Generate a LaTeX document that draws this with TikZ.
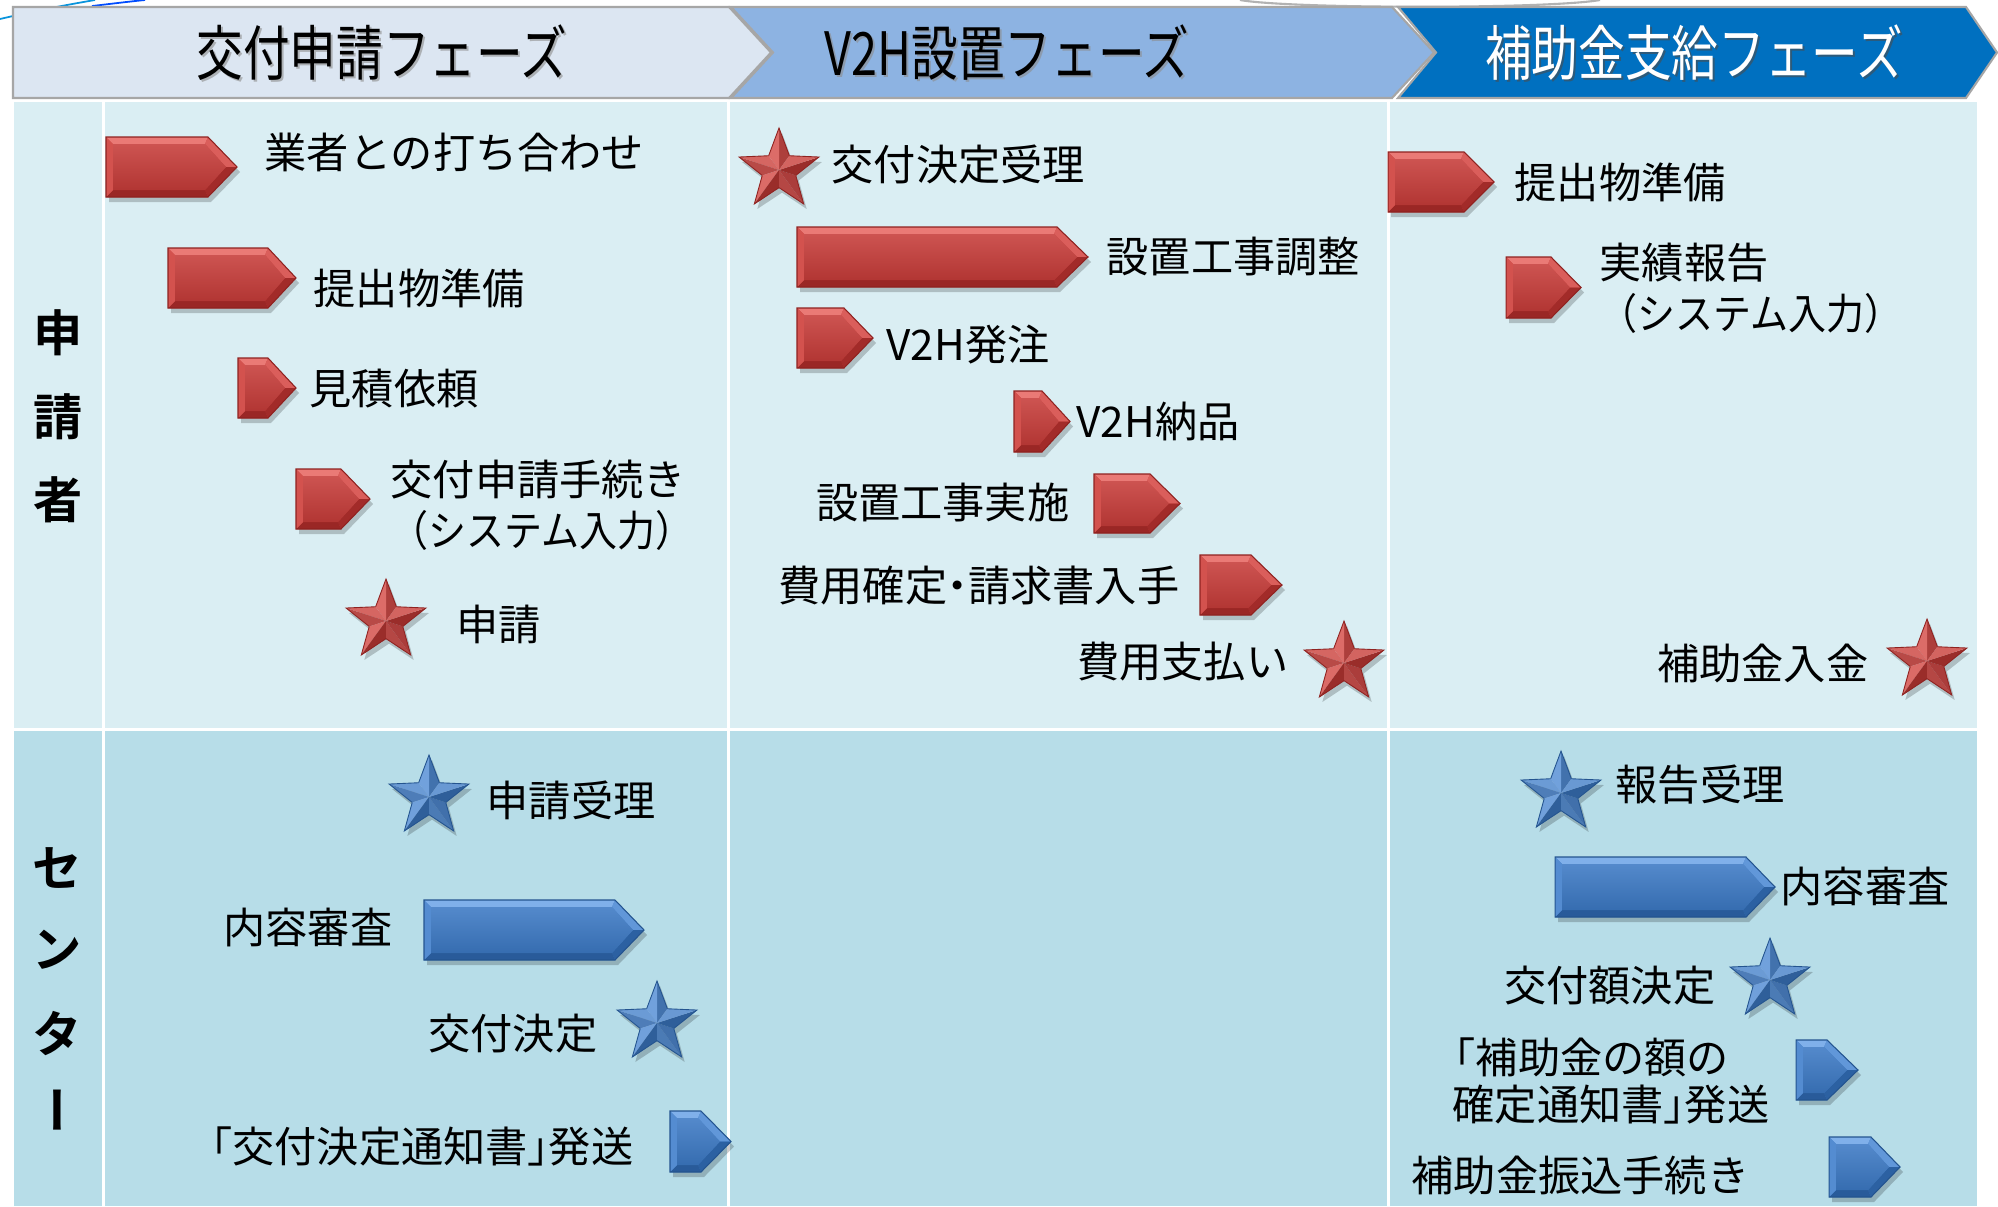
\documentclass[tikz,border=0pt]{standalone}
\usepackage{fontspec}
\setmainfont{Noto Sans CJK JP}[BoldFont={Noto Sans CJK JP Bold}]
\newfontfamily\jpc{Noto Sans CJK JP}[FakeStretch=0.78]
\newfontfamily\jph{Noto Sans CJK JP}[RawFeature=+halt]
\newfontfamily\jpn{Noto Sans CJK JP}[FakeStretch=0.9]
\usetikzlibrary{calc}
\definecolor{hdA}{HTML}{DCE6F2}
\definecolor{hdB}{HTML}{8DB3E2}
\definecolor{hdC}{HTML}{0070C0}
\definecolor{hdLine}{HTML}{A6A6A6}
\definecolor{rowA}{HTML}{DAEEF3}
\definecolor{rowB}{HTML}{B7DDE8}
\definecolor{Rbase}{HTML}{C63C39}
\definecolor{Rhi}{HTML}{EA7A76}
\definecolor{Rlo}{HTML}{8F2220}
\definecolor{Bbase}{HTML}{3C79C4}
\definecolor{Bhi}{HTML}{80B0EA}
\definecolor{Blo}{HTML}{24548F}
% pentagon arrow: #1 colour prefix, #2 x1, #3 y1, #4 tip x, #5 y2, #6 depth of point
\newcommand\parrow[6]{%
  \pgfmathsetmacro\paXm{#4-#6}%
  \pgfmathsetmacro\paYm{(#3+#5)/2}%
  \pgfmathsetmacro\paBx{#2+7}%
  \pgfmathsetmacro\paTy{#3+7}%
  \pgfmathsetmacro\paBy{#5-7}%
  \pgfmathsetmacro\paXi{\paXm-3}%
  \pgfmathsetmacro\paXt{#4-11}%
  \fill[black,opacity=.2] (#2+3,#3+5) -- (\paXm+3,#3+5) -- (#4+3,\paYm+5) -- (\paXm+3,#5+5) -- (#2+3,#5+5) -- cycle;
  \fill[#1base] (#2,#3) -- (\paXm,#3) -- (#4,\paYm) -- (\paXm,#5) -- (#2,#5) -- cycle;
  \fill[#1hi] (#2,#3) -- (\paXm,#3) -- (\paXi,\paTy) -- (\paBx,\paTy) -- cycle;
  \fill[#1hi!55!#1base] (\paXm,#3) -- (#4,\paYm) -- (\paXt,\paYm) -- (\paXi,\paTy) -- cycle;
  \fill[#1lo!65!#1base] (#4,\paYm) -- (\paXm,#5) -- (\paXi,\paBy) -- (\paXt,\paYm) -- cycle;
  \fill[#1lo!80!#1base] (\paXm,#5) -- (#2,#5) -- (\paBx,\paBy) -- (\paXi,\paBy) -- cycle;
  \fill[#1hi!35!#1base] (#2,#5) -- (#2,#3) -- (\paBx,\paTy) -- (\paBx,\paBy) -- cycle;
  \shade[top color=#1base!88!white, bottom color=#1base!90!black] (\paBx,\paTy) -- (\paXi,\paTy) -- (\paXt,\paYm) -- (\paXi,\paBy) -- (\paBx,\paBy) -- cycle;
  \draw[#1lo, line width=0.3pt] (#2,#3) -- (\paXm,#3) -- (#4,\paYm) -- (\paXm,#5) -- (#2,#5) -- cycle;
}
% bevelled star: #1 colour prefix, #2 cx, #3 cy, #4 R
\newcommand\bstar[4]{%
  \pgfmathsetmacro\bsR{0.42*#4}%
  \fill[black,opacity=.2] ({#2+3},{#3+5-#4}) \foreach \k in {0,...,4}{ -- ({#2+3+\bsR*cos(54-72*\k)},{#3+5-\bsR*sin(54-72*\k)}) -- ({#2+3+#4*cos(18-72*\k)},{#3+5-#4*sin(18-72*\k)}) } -- cycle;
  \foreach \k in {0,...,4}{%
    \pgfmathsetmacro\bsA{90+72*\k}%
    \pgfmathsetmacro\bsOx{#2+#4*cos(\bsA)}%
    \pgfmathsetmacro\bsOy{#3-#4*sin(\bsA)}%
    \pgfmathsetmacro\bsRx{#2+\bsR*cos(\bsA-36)}%
    \pgfmathsetmacro\bsRy{#3-\bsR*sin(\bsA-36)}%
    \pgfmathsetmacro\bsLx{#2+\bsR*cos(\bsA+36)}%
    \pgfmathsetmacro\bsLy{#3-\bsR*sin(\bsA+36)}%
    \pgfmathsetmacro\bsPr{int(50+38*cos(\bsA-70-135))}%
    \pgfmathsetmacro\bsPl{int(50+38*cos(\bsA+70-135))}%
    \fill[#1hi!\bsPr!#1lo] (#2,#3) -- (\bsOx,\bsOy) -- (\bsRx,\bsRy) -- cycle;
    \fill[#1hi!\bsPl!#1lo] (#2,#3) -- (\bsLx,\bsLy) -- (\bsOx,\bsOy) -- cycle;
    \draw[#1lo, line width=0.25pt] (\bsLx,\bsLy) -- (\bsOx,\bsOy) -- (\bsRx,\bsRy);
  }%
}
\tikzset{
  txt/.style={inner sep=0pt, text=black, font={\fontsize{12}{14.5}\selectfont}},
  txth/.style={inner sep=0pt, text=black, font={\jph\fontsize{12}{14.5}\selectfont}},
  hdtxt/.style={inner sep=0pt, font={\jpc\fontsize{17}{20}\selectfont}},
  lbl/.style={inner sep=0pt, text=black, font={\bfseries\fontsize{14}{16}\selectfont}},
  hdbox/.style={draw=hdLine, line width=0.6pt},
}
\begin{document}
\begin{tikzpicture}[x=0.01cm,y=-0.01cm]
\useasboundingbox (0,0) rectangle (1998,1206);
\fill[white] (0,0) rectangle (1998,1206);
% template swooshes
\draw[cyan!80!blue, line width=0.5pt] (0,19) .. controls (30,12) and (60,6) .. (95,0);
\draw[blue!70!cyan, line width=0.5pt] (92,6) .. controls (110,4) and (125,2) .. (145,0);
\draw[gray!60, line width=0.6pt] (1240,0) .. controls (1290,9) and (1550,9) .. (1600,0);
% header chevrons
\path[hdbox, fill=hdA] (13,7) -- (729,7) -- (771,52.5) -- (729,98) -- (13,98) -- cycle;
\path[hdbox, fill=hdB] (731,7) -- (1392,7) -- (1434,52.5) -- (1392,98) -- (731,98) -- (773,52.5) -- cycle;
\path[hdbox, fill=hdC] (1398,7) -- (1966,7) -- (1997,52.5) -- (1966,98) -- (1398,98) -- (1436,52.5) -- cycle;
\node[hdtxt, text=black!45, opacity=.6] (h1s) at (384,55) {交付申請フェーズ};
\node[hdtxt, text=black] (h1) at (382,53) {交付申請フェーズ};
\node[hdtxt, text=black!45, opacity=.6] (h2s) at (1009,55) {V2H設置フェーズ};
\node[hdtxt, text=black] (h2) at (1007,53) {V2H設置フェーズ};
\node[hdtxt, text=black!70, opacity=.6] (h3s) at (1696,55) {補助金支給フェーズ};
\node[hdtxt, text=white] (h3) at (1694,53) {補助金支給フェーズ};
% table cells
\fill[rowA] (14,102) rectangle (102,728);
\fill[rowA] (105,102) rectangle (727,728);
\fill[rowA] (730,102) rectangle (1387,728);
\fill[rowA] (1390,102) rectangle (1977,728);
\fill[rowB] (14,731) rectangle (102,1206);
\fill[rowB] (105,731) rectangle (727,1206);
\fill[rowB] (730,731) rectangle (1387,1206);
\fill[rowB] (1390,731) rectangle (1977,1206);
% row labels
\node[lbl] (la1) at (58,333) {申};
\node[lbl] (la2) at (58,417) {請};
\node[lbl] (la3) at (58,500) {者};
\node[lbl] (lb1) at (57,868) {セ};
\node[lbl] (lb2) at (57,950) {ン};
\node[lbl] (lb3) at (57,1033) {タ};
\node[lbl, rotate=-90] (lb4) at (50,1110) {ー};
% ---- applicant, phase 1
\parrow{R}{106}{137}{237}{197}{29}
\node[txt, anchor=west] (t11) at (264,152) {業者との打ち合わせ};
\parrow{R}{168}{248}{296}{308}{28}
\node[txt, anchor=west] (t12) at (313,288) {提出物準備};
\parrow{R}{238}{358}{296}{418}{28}
\node[txt, anchor=west] (t13) at (309,389) {見積依頼};
\parrow{R}{296}{469}{370}{529}{29}
\node[txt, anchor=west, align=left] (t14) at (390,505) {交付申請手続き\\{\jpn （システム入力）}};
\bstar{R}{386}{621}{42}
\node[txt, anchor=west] (t15) at (456,624) {申請};
% ---- applicant, phase 2
\bstar{R}{779}{170}{42}
\node[txt, anchor=west] (t21) at (831,164) {交付決定受理};
\parrow{R}{797}{227}{1088}{287}{31}
\node[txt, anchor=west] (t22) at (1106,257) {設置工事調整};
\parrow{R}{797}{308}{873}{368}{29}
\node[txt, anchor=west] (t23) at (886,345) {V2H発注};
\parrow{R}{1014}{391}{1070}{452}{28}
\node[txt, anchor=west] (t24) at (1076,421) {V2H納品};
\node[txt, anchor=east] (t25) at (1070,502) {設置工事実施};
\parrow{R}{1094}{474}{1180}{533}{30}
\node[txth, anchor=east] (t26) at (1180,586) {費用確定・請求書入手};
\parrow{R}{1200}{555}{1282}{615}{31}
\node[txt, anchor=east] (t27) at (1289,662) {費用支払い};
\bstar{R}{1344}{663}{42}
% ---- applicant, phase 3
\parrow{R}{1388}{152}{1494}{212}{30}
\node[txt, anchor=west] (t31) at (1514,182) {提出物準備};
\parrow{R}{1506}{257}{1581}{318}{30}
\node[txt, anchor=west, align=left] (t32) at (1599,288) {実績報告\\{\jpn （システム入力）}};
\node[txt, anchor=east] (t33) at (1869,663) {補助金入金};
\bstar{R}{1927}{661}{42}
% ---- centre, phase 1
\bstar{B}{429}{797}{42}
\node[txt, anchor=west] (c11) at (486,800) {申請受理};
\node[txt, anchor=east] (c12) at (393,927) {内容審査};
\parrow{B}{424}{900}{644}{960}{29}
\node[txt, anchor=east] (c13) at (598,1034) {交付決定};
\bstar{B}{657}{1023}{42}
\node[txth, anchor=east] (c14) at (634,1146) {「交付決定通知書」発送};
\parrow{B}{670}{1111}{731}{1172}{30}
% ---- centre, phase 3
\bstar{B}{1561}{793}{42}
\node[txt, anchor=west] (c31) at (1615,785) {報告受理};
\parrow{B}{1555}{857}{1775}{917}{29}
\node[txt, anchor=west] (c32) at (1780,886) {内容審査};
\node[txt, anchor=east] (c33) at (1716,986) {交付額決定};
\bstar{B}{1770}{980}{42}
\node[txth, anchor=west] (c34a) at (1454,1057) {「補助金の額の};
\node[txth, anchor=west] (c34b) at (1452,1105) {確定通知書」発送};
\parrow{B}{1796}{1040}{1858}{1100}{31}
\node[txt, anchor=east] (c35) at (1750,1175) {補助金振込手続き};
\parrow{B}{1829}{1137}{1900}{1197}{29}
\end{tikzpicture}
\end{document}
